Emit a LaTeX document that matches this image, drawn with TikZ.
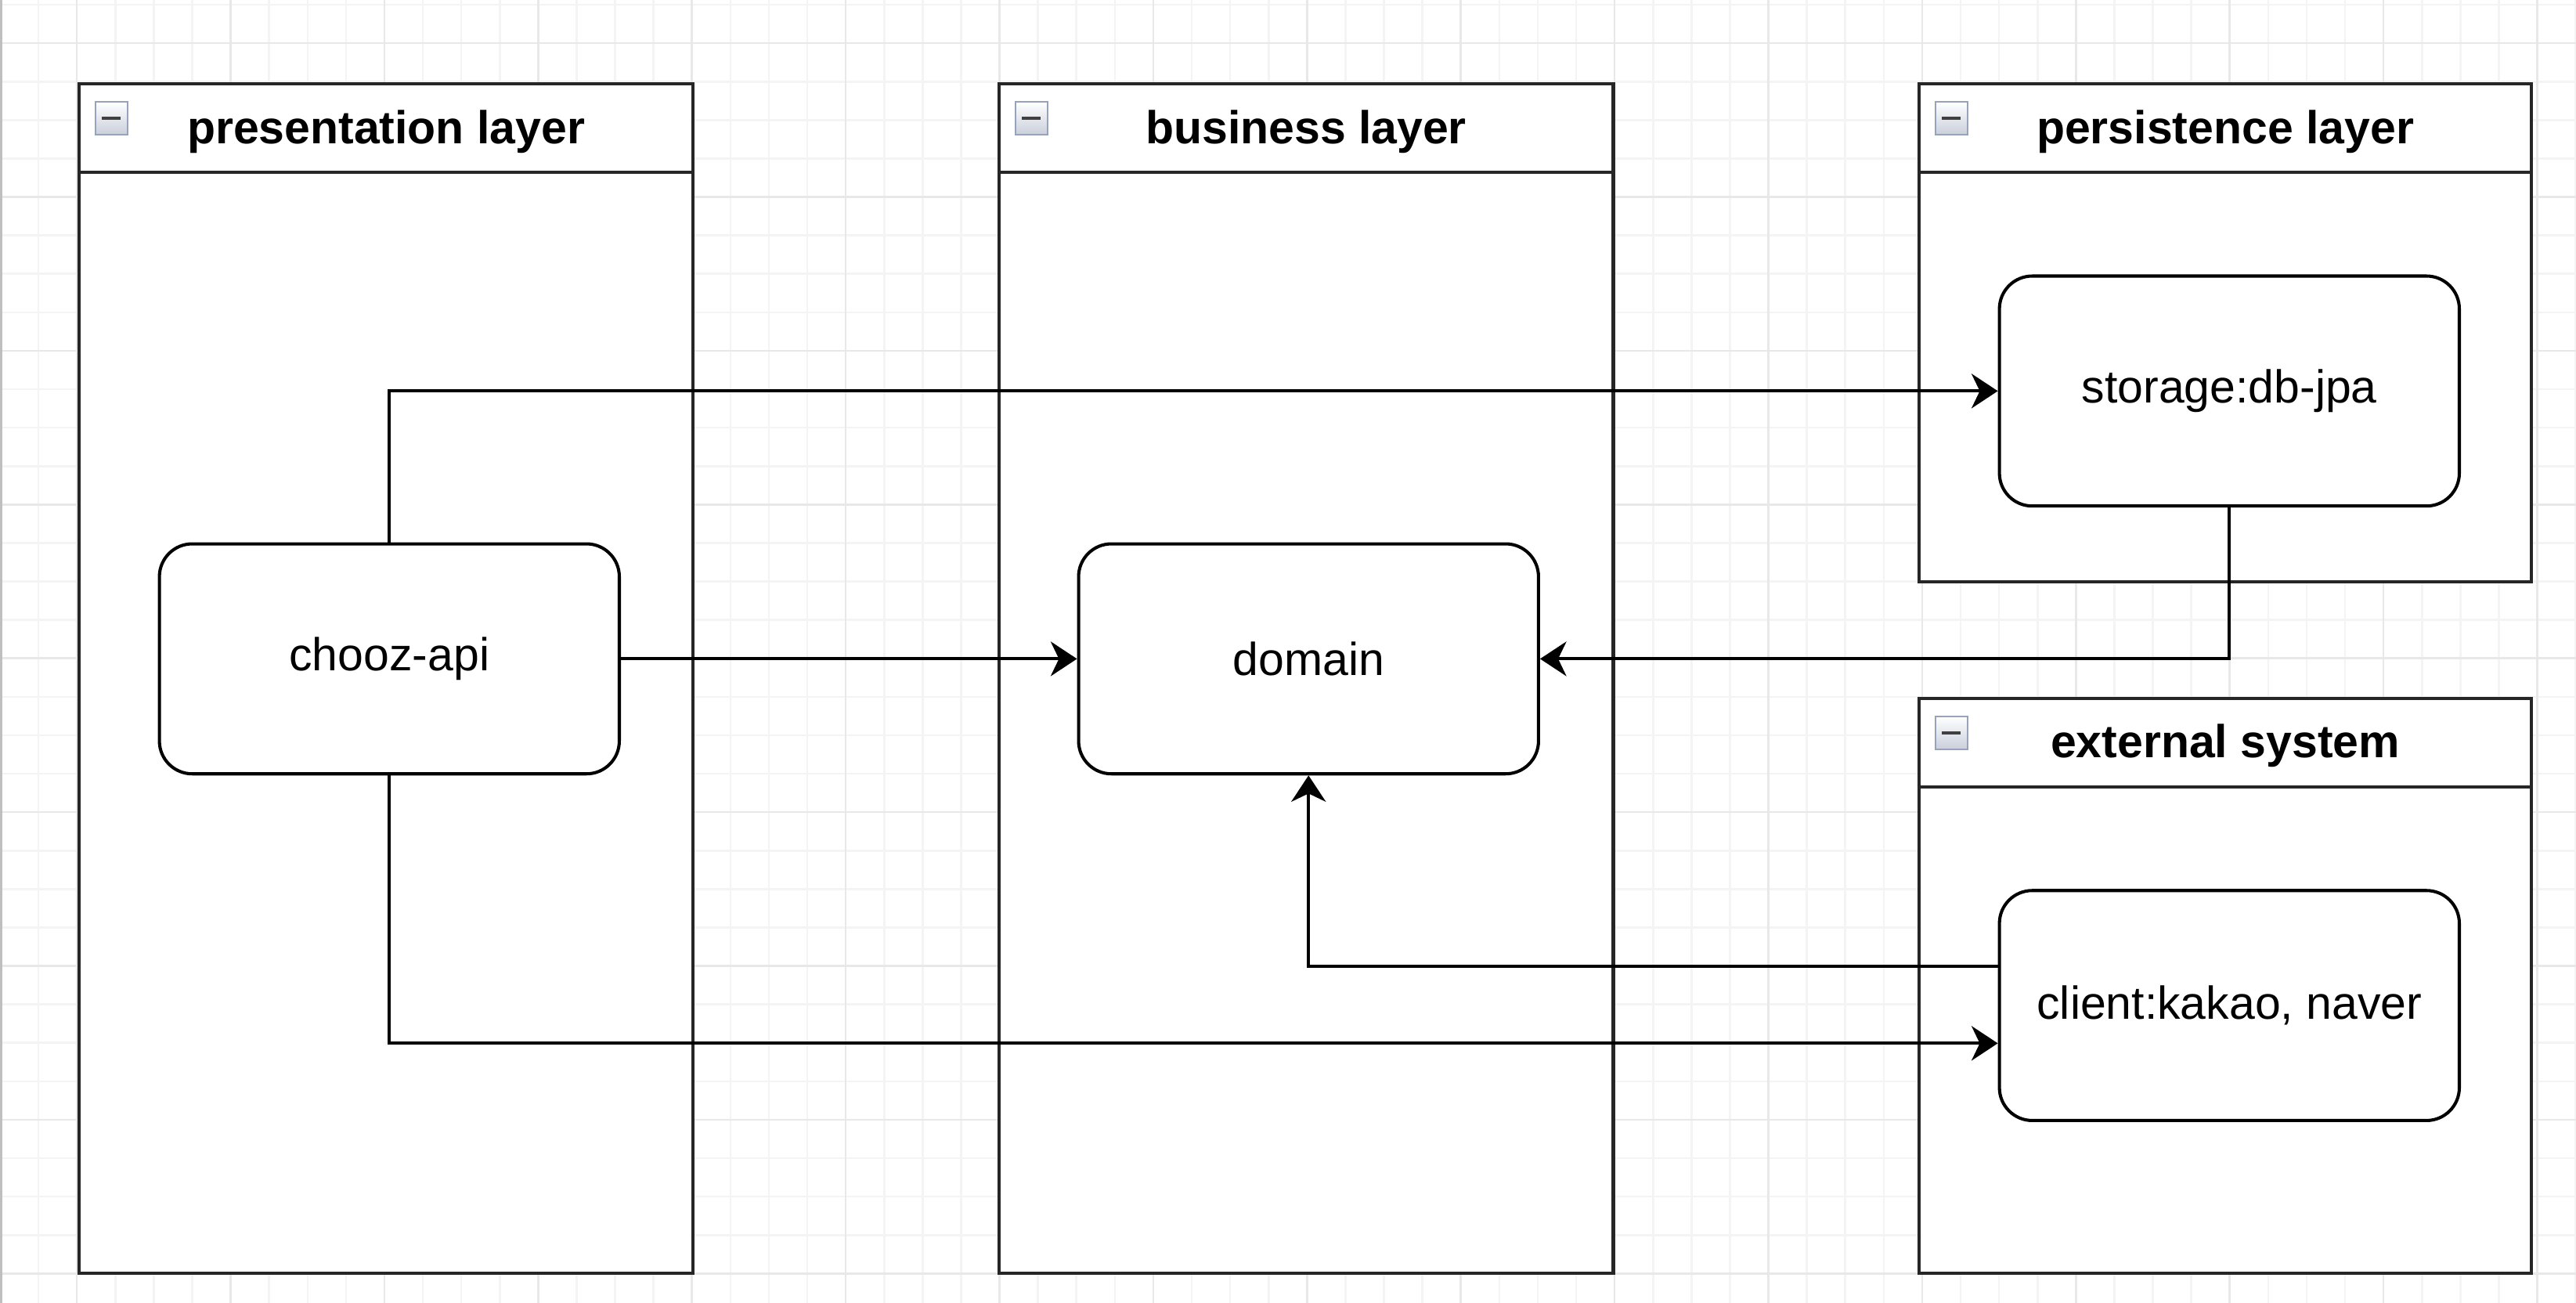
\documentclass[tikz,border=0pt]{standalone}
\usepackage{fontspec}
\setmainfont{Liberation Sans}
\usetikzlibrary{arrows.meta}
\usetikzlibrary{calc}

\definecolor{gridminor}{HTML}{F4F4F4}
\definecolor{gridmajor}{HTML}{E8E8E8}
\definecolor{iconedge}{HTML}{97A3BD}
\definecolor{iconfill}{HTML}{C9CFDC}

\tikzset{
  module/.style={draw=black, line width=1.1pt, fill=white, rounded corners=0.4cm,
    minimum width=5.6cm, minimum height=2.8cm, font=\fontsize{16}{19}\selectfont},
  layer/.style={draw=black!85, line width=1.1pt, fill=white},
  layertitle/.style={font=\fontsize{16}{19}\selectfont\bfseries},
  iconbox/.style={draw=iconedge, line width=0.6pt, top color=white, bottom color=iconfill},
  iconbar/.style={draw=black!75, line width=1.2pt},
  dep/.style={line width=1.1pt, -{Stealth[length=0.32cm, width=0.42cm, inset=0.1cm]}},
}

\begin{document}
\begin{tikzpicture}[x=0.02cm, y=-0.02cm]
\useasboundingbox (0,0) rectangle (1568,793);
% background grid
\foreach \gx in {0,23.4,...,1568} \draw[gridminor, line width=0.7pt] (\gx,0) -- (\gx,793);
\foreach \gy in {2.9,26.3,...,793} \draw[gridminor, line width=0.7pt] (0,\gy) -- (1568,\gy);
\foreach \gx in {46.8,140.4,...,1568} \draw[gridmajor, line width=0.7pt] (\gx,0) -- (\gx,793);
\foreach \gy in {26.3,119.9,...,793} \draw[gridmajor, line width=0.7pt] (0,\gy) -- (1568,\gy);
\draw[black!25, line width=0.8pt] (0.5,0) -- (0.5,793);

% layers
\filldraw[layer] (48,51) rectangle (422,775);
\draw[layer] (48,105) -- (422,105);
\filldraw[iconbox] (58,62) rectangle (77.5,82);
\draw[iconbar] (62,72) -- (73.5,72);
\node[layertitle] (presT) at (235,80) {presentation layer};

\filldraw[layer] (608,51) rectangle (982,775);
\draw[layer] (608,105) -- (982,105);
\filldraw[iconbox] (618,62) rectangle (637.5,82);
\draw[iconbar] (622,72) -- (633.5,72);
\node[layertitle] (busT) at (795,80) {business layer};

\filldraw[layer] (1168,51) rectangle (1541,354);
\draw[layer] (1168,105) -- (1541,105);
\filldraw[iconbox] (1178,62) rectangle (1197.5,82);
\draw[iconbar] (1182,72) -- (1193.5,72);
\node[layertitle] (persT) at (1354.5,80) {persistence layer};

\filldraw[layer] (1168,425) rectangle (1541,775);
\draw[layer] (1168,479) -- (1541,479);
\filldraw[iconbox] (1178,436) rectangle (1197.5,456);
\draw[iconbar] (1182,446) -- (1193.5,446);
\node[layertitle] (extT) at (1354.5,454) {external system};

% modules
\node[module] (api) at (237,401) {chooz-api};
\node[module] (dom) at (796.5,401) {domain};
\node[module] (jpa) at (1357,238) {storage:db-jpa};
\node[module] (client) at (1357,612) {client:kakao, naver};

% dependencies
\draw[dep] (api.north) |- (jpa.west);
\draw[dep] (api) -- (dom);
\draw[dep] (jpa.south) |- (dom.east);
\draw[dep] ($(client.west)+(0,-24)$) -| (dom.south);
\draw[dep] (api.south) |- ($(client.west)+(0,23)$);
\end{tikzpicture}
\end{document}
